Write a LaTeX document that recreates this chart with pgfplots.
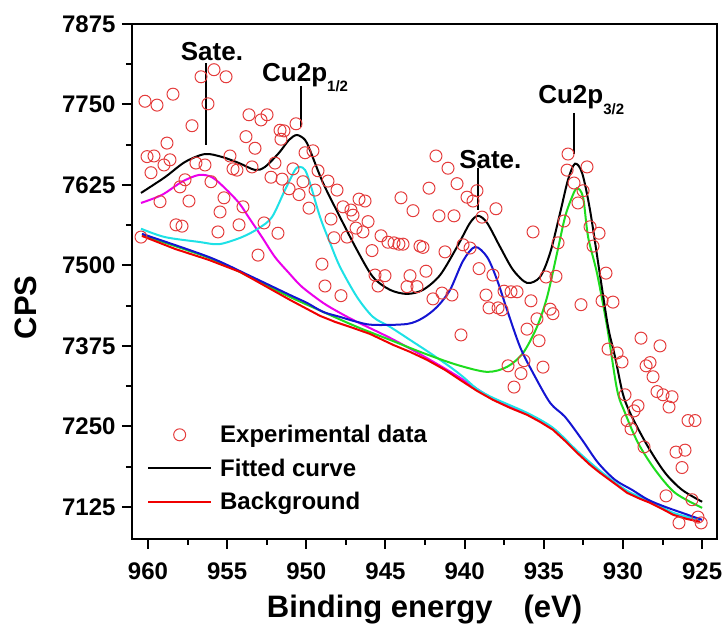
\documentclass[border=0pt]{standalone}
\usepackage{pgfplots}
\pgfplotsset{compat=1.18}
\usepackage{fontspec}
\setmainfont{Liberation Sans}
\definecolor{ptred}{RGB}{228,60,60}
\definecolor{bgred}{RGB}{240,0,0}
\definecolor{cmag}{RGB}{235,0,235}
\definecolor{ccyan}{RGB}{30,225,230}
\definecolor{cblue}{RGB}{20,20,210}
\definecolor{cgreen}{RGB}{30,220,30}
\pgfplotsset{
  lineleg/.style={legend image code/.code={\draw[##1] (0pt,0pt) -- (63pt,0pt);}},
  markleg/.style={legend image code/.code={\draw[##1] plot coordinates {(31.5pt,0pt)};}},
}
\begin{document}
\begin{tikzpicture}
\path[use as bounding box] (-132pt,-89pt) rectangle (593pt,539pt);
\begin{axis}[
  at={(0pt,0pt)}, anchor=south west,
  width=585pt, height=515pt, scale only axis,
  x dir=reverse,
  xmin=924.06, xmax=961.01, ymin=7075, ymax=7875,
  xtick={925,930,...,960}, ytick={7125,7250,...,7875},
  minor x tick num=1, minor y tick num=1,
  tick align=outside, xtick pos=bottom, ytick pos=left,
  major tick length=10pt, minor tick length=6pt,
  every tick/.style={black, line width=2pt},
  axis line style={line width=2.4pt},
  ticklabel style={font=\fontsize{24}{28}\selectfont\bfseries},
  xticklabel style={yshift=-10pt},
  yticklabel style={xshift=-3pt},
  /pgf/number format/assume math mode=true,
  /pgf/number format/1000 sep={},
  xlabel={Binding energy\quad(eV)},
  xlabel style={font=\fontsize{31}{36}\selectfont\bfseries, at={(axis description cs:0.5,0)}, anchor=base, yshift=-79pt},
  ylabel={CPS},
  ylabel style={font=\fontsize{31}{36}\selectfont\bfseries, at={(axis description cs:-0.1812,0.45)}, anchor=center},
  legend style={at={(axis description cs:0.0256,0.223)}, anchor=north west, draw=none, fill=none,
    font=\fontsize{24}{28}\selectfont\bfseries, row sep=12.5pt, inner sep=0pt,
    nodes={inner sep=1pt},
    /tikz/every odd column/.append style={column sep=7pt}},
  legend cell align=left,
]
\addplot[only marks, mark=o, mark size=6pt, ptred, line width=1pt, markleg] coordinates {
(960.44,7544) (960.19,7755) (960.06,7669) (959.81,7644) (959.62,7670) (959.43,7749)
(959.24,7599) (958.99,7656) (958.80,7690) (958.61,7664) (958.42,7766) (958.23,7563)
(957.85,7561) (957.98,7622) (957.66,7633) (957.41,7600) (957.22,7717) (956.97,7659)
(956.65,7793) (956.40,7656) (956.21,7751) (956.02,7630) (955.83,7804) (955.58,7552)
(955.45,7583) (955.20,7605) (955.07,7793) (954.82,7670) (954.63,7650) (954.38,7648)
(954.25,7563) (954.00,7591) (953.81,7700) (953.62,7734) (953.43,7653) (953.24,7682)
(953.05,7516) (952.86,7726) (952.67,7566) (952.48,7734) (952.23,7637) (951.98,7659)
(951.79,7550) (951.66,7710) (951.60,7696) (951.41,7709) (951.53,7634) (951.09,7619)
(950.84,7650) (950.65,7720) (950.46,7610) (950.21,7630) (950.08,7675) (949.83,7589)
(949.58,7678) (949.45,7617) (949.26,7647) (949.01,7502) (948.82,7468) (948.63,7631)
(948.44,7572) (948.25,7543) (948.06,7617) (947.81,7453) (947.68,7591) (947.43,7544)
(947.18,7586) (947.05,7578) (946.86,7558) (946.67,7603) (946.42,7552) (946.29,7600)
(946.10,7568) (945.85,7523) (945.66,7485) (945.47,7468) (945.28,7546) (945.03,7484)
(944.84,7536) (944.46,7535) (944.15,7533) (944.02,7605) (943.89,7533) (943.64,7467)
(943.45,7484) (943.26,7585) (943.01,7467) (942.82,7530) (942.63,7528) (942.44,7491)
(942.25,7620) (942.00,7448) (941.81,7670) (941.62,7577) (941.43,7457) (941.24,7521)
(941.05,7651) (940.80,7454) (940.67,7577) (940.48,7627) (940.23,7392) (940.10,7532)
(939.85,7606) (939.66,7527) (939.47,7600) (939.22,7616) (939.09,7495) (938.90,7575)
(938.65,7454) (938.46,7434) (938.21,7485) (938.02,7588) (937.89,7434) (937.64,7431)
(937.51,7460) (937.26,7344) (937.07,7459) (936.88,7311) (936.69,7459) (936.44,7332)
(936.25,7352) (936.06,7401) (935.81,7445) (935.68,7552) (935.43,7417) (935.30,7383)
(935.05,7342) (934.86,7482) (934.60,7432) (934.42,7425) (934.23,7483) (934.10,7535)
(933.72,7569) (933.53,7648) (933.47,7673) (933.09,7628) (932.84,7597) (932.65,7439)
(932.52,7616) (932.27,7653) (932.08,7560) (931.89,7530) (931.51,7550) (931.32,7445)
(931.07,7488) (930.94,7370) (930.63,7443) (930.37,7364) (930.06,7350) (929.87,7299)
(929.74,7259) (929.49,7246) (929.30,7274) (929.05,7282) (928.86,7387) (928.67,7218)
(928.54,7344) (928.29,7349) (928.10,7327) (927.85,7304) (927.66,7375) (927.47,7299)
(927.28,7142) (927.09,7280) (926.90,7296) (926.65,7210) (926.46,7100) (926.27,7186)
(926.08,7213) (925.89,7259) (925.64,7136) (925.45,7259) (925.26,7109) (925.06,7100)
};
\addlegendentry{Experimental data}
% magenta component
\addplot[cmag, line width=2pt, smooth, forget plot] coordinates {
(960.44,7597) (959.12,7609.5) (957.85,7630) (956.78,7640.5) (955.96,7637) (955.14,7620)
(954.25,7597) (953.62,7574) (952.80,7544) (951.98,7513) (951.09,7488) (950.27,7466.6)
(948.94,7441.8) (947.87,7426.2) (946.80,7412.3) (944.71,7387.4) (942.63,7359.5)
(940.48,7328.4) (938.21,7292.7) (936.06,7269.4) (934.42,7246.1) (932.90,7210.4)
(931.45,7179.3) (929.74,7148.3) (928.29,7132.8) (926.83,7114.1) (925.13,7103.3)
};
% cyan component
\addplot[ccyan, line width=2pt, smooth, forget plot] coordinates {
(960.44,7557) (958.93,7544) (956.78,7536.5) (955.51,7533) (954.06,7544) (952.99,7558)
(952.17,7575) (951.35,7617) (950.71,7648.3) (950.40,7653) (950.08,7648.3) (949.77,7628)
(949.13,7575) (948.50,7535) (947.87,7497.7) (946.80,7451) (945.79,7420) (944.71,7404.5)
(943.45,7384.3) (942.19,7364) (940.92,7342.4) (940.10,7326.9) (939.22,7308.2)
(938.21,7294.3) (936.06,7271) (934.42,7247.7) (932.90,7212) (931.45,7180.9)
(929.74,7149.8) (928.29,7134.3) (926.83,7115.7) (925.13,7104.8)
};
% green component
\addplot[cgreen, line width=2pt, smooth, forget plot] coordinates {
(960.38,7547) (956.15,7511.7) (953.56,7482) (951.03,7451) (948.94,7427.8) (946.80,7404.5)
(944.71,7384.3) (942.63,7364) (940.48,7345.5) (938.58,7334.6) (937.32,7342.4)
(936.31,7364) (935.43,7404.5) (934.79,7451) (934.16,7519.4) (933.66,7575) (933.22,7606)
(932.90,7620) (932.52,7606) (932.20,7544) (931.64,7488) (931.00,7404.5) (930.37,7306.7)
(929.87,7271) (929.05,7224.4) (927.97,7182.5) (926.71,7146.7) (925.00,7123.4)
};
% blue component
\addplot[cblue, line width=2pt, smooth, forget plot] coordinates {
(960.38,7549) (956.15,7513) (953.56,7483.7) (951.03,7454) (949.96,7441.8) (948.94,7427.8)
(947.87,7420) (946.80,7412.3) (945.79,7407.6) (943.64,7409) (942.63,7418.5)
(941.74,7435.6) (940.92,7462) (940.10,7507) (939.34,7528.7) (938.58,7513) (937.95,7477.5)
(937.32,7430.9) (936.50,7373.4) (935.68,7333) (934.60,7286.5) (933.66,7264.8)
(932.58,7229) (931.57,7193.3) (930.50,7166.9) (929.43,7151.4) (928.41,7135.9)
(927.34,7125) (926.27,7115.7) (925.00,7104.8)
};
% fitted curve
\addplot[black, line width=2pt, smooth, lineleg] coordinates {
(960.44,7612.6) (958.93,7637) (957.66,7660.7) (956.40,7673) (955.33,7668.5) (954.25,7659)
(953.24,7648.3) (952.61,7653) (951.72,7675) (951.09,7695) (950.59,7702.6) (950.08,7695)
(949.77,7679) (948.94,7628) (947.87,7575) (946.80,7524) (945.79,7482) (944.71,7462)
(943.64,7455.7) (942.63,7462) (941.55,7485) (940.48,7528.7) (939.66,7566) (939.15,7577)
(938.58,7566) (937.76,7528.7) (936.94,7493) (936.06,7472.8) (935.24,7482) (934.60,7519.4)
(933.97,7581.5) (933.47,7633) (933.03,7658) (932.58,7643.6) (932.08,7586) (931.45,7485)
(930.94,7404.5) (930.50,7358) (929.99,7299) (929.43,7264.8) (928.41,7218) (927.34,7177.8)
(926.27,7151.4) (925.00,7132.8)
};
\addlegendentry{Fitted curve}
% background
\addplot[bgred, line width=2pt, lineleg] coordinates {
(960.38,7545.8) (958.29,7525.6) (956.15,7508.5) (954.19,7489.9) (952.61,7468.2)
(951.03,7446.4) (950.08,7434.0) (949.13,7421.6) (948.19,7412.3) (947.24,7404.5)
(945.98,7393.6) (944.52,7376.6) (943.45,7365.7) (942.38,7353.3) (941.24,7337.7)
(940.29,7322.2) (939.22,7305.1) (938.21,7291.1) (937.13,7278.7) (936.06,7267.9)
(935.24,7257.0) (934.42,7244.6) (933.66,7227.5) (932.90,7208.9) (932.08,7190.2)
(931.45,7177.8) (930.50,7160.7) (929.74,7146.7) (928.92,7137.4) (928.29,7131.2)
(927.53,7121.9) (926.83,7112.6) (926.01,7106.4) (925.13,7101.7)
};
\addlegendentry{Background}
% annotations
\tikzset{annot/.style={font=\fontsize{26}{30}\selectfont\bfseries, inner sep=0pt}}
\node[annot, anchor=base] at (axis cs:955.96,7819) {Sate.};
\draw[line width=1.6pt] (axis cs:956.34,7814) -- (axis cs:956.34,7687);
\node[annot, anchor=base west] at (axis cs:952.80,7786) {Cu2p\raisebox{-10pt}{\fontsize{15}{15}\selectfont 1/2}};
\draw[line width=1.6pt] (axis cs:950.33,7779) -- (axis cs:950.33,7715);
\node[annot, anchor=base west] at (axis cs:940.35,7651) {Sate.};
\draw[line width=1.6pt] (axis cs:939.15,7651) -- (axis cs:939.15,7586);
\node[annot, anchor=base west] at (axis cs:935.36,7752) {Cu2p\raisebox{-11pt}{\fontsize{15}{15}\selectfont 3/2}};
\draw[line width=1.6pt] (axis cs:933.09,7737) -- (axis cs:933.09,7673);
\end{axis}
\end{tikzpicture}
\end{document}
